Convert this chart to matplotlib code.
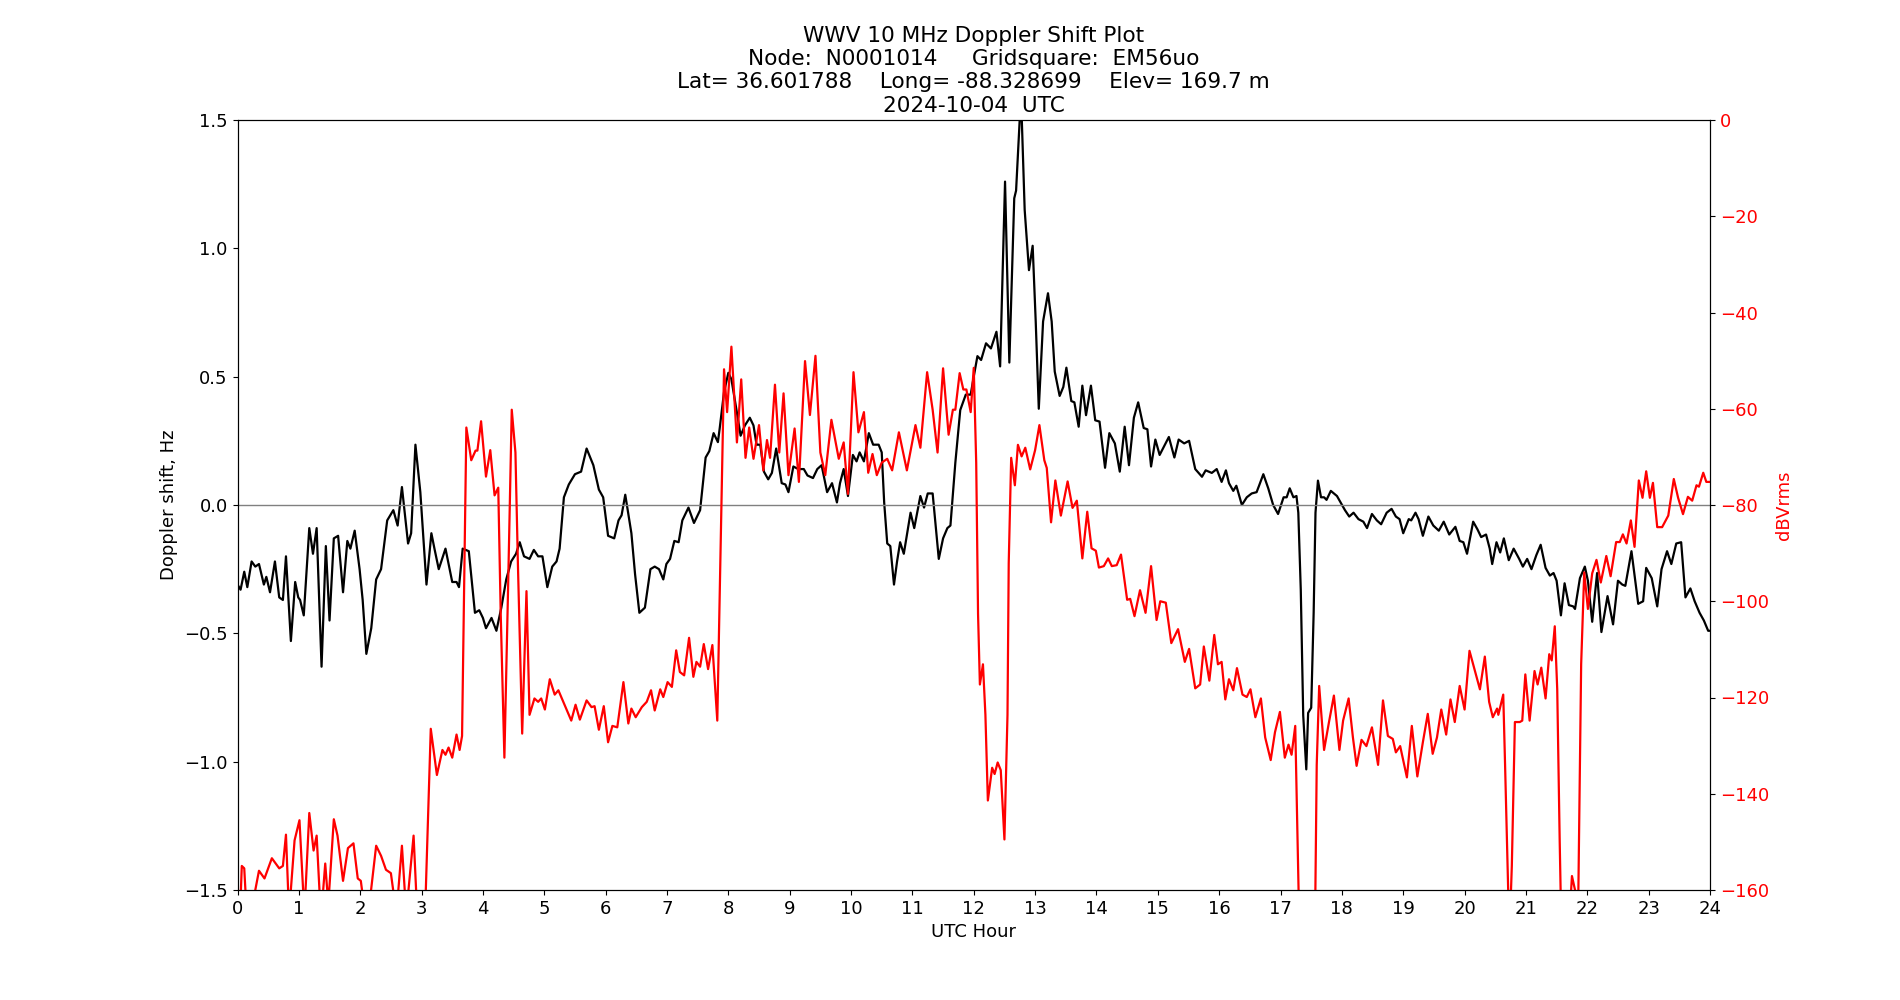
import matplotlib
matplotlib.use("Agg")
import matplotlib.pyplot as plt

plt.rcParams["font.size"] = 13

# ---- Doppler shift (Hz) ----
doppler_hours = [
    0.00, 0.05, 0.11, 0.16, 0.23, 0.29, 0.35, 0.43, 0.47, 0.53, 0.61, 0.68, 0.74, 0.79, 0.87, 0.94,
    0.99, 1.02, 1.08, 1.17, 1.23, 1.29, 1.37, 1.44, 1.50, 1.57, 1.64, 1.72, 1.79, 1.84, 1.91, 1.99,
    2.04, 2.10, 2.18, 2.26, 2.34, 2.44, 2.54, 2.61, 2.68, 2.78, 2.83, 2.90, 2.98, 3.08, 3.16, 3.21,
    3.28, 3.39, 3.50, 3.57, 3.61, 3.67, 3.77, 3.87, 3.94, 4.00,
    4.05, 4.14, 4.22, 4.30, 4.38, 4.46, 4.54, 4.60, 4.67, 4.76, 4.83, 4.90, 4.97, 5.05, 5.13, 5.20,
    5.25, 5.32, 5.40, 5.50, 5.60, 5.69, 5.80, 5.89, 5.96, 6.04, 6.14, 6.21, 6.26, 6.32, 6.42, 6.48,
    6.55, 6.64, 6.73, 6.80, 6.87, 6.94, 6.99, 7.05, 7.12, 7.19, 7.25, 7.35, 7.44, 7.54, 7.63, 7.69,
    7.76, 7.83,
    7.86, 7.93, 8.00, 8.05, 8.14, 8.20, 8.27, 8.35, 8.41, 8.46, 8.52, 8.58, 8.65, 8.71, 8.78, 8.87,
    8.93, 8.98, 9.06, 9.14, 9.23, 9.29, 9.38, 9.45, 9.52, 9.61, 9.69, 9.77, 9.82, 9.88, 9.95, 10.03,
    10.09, 10.14, 10.21, 10.29, 10.36, 10.45, 10.50, 10.54, 10.59, 10.64, 10.70, 10.75, 10.80, 10.86,
    10.97, 11.03, 11.13, 11.19, 11.25, 11.33, 11.43, 11.50, 11.57, 11.62, 11.70, 11.78, 11.87, 11.95,
    12.00, 12.06, 12.12, 12.20, 12.28, 12.37, 12.43, 12.51, 12.58, 12.66, 12.69, 12.77, 12.83, 12.90,
    12.96, 13.01, 13.06, 13.13, 13.21, 13.27, 13.32, 13.40, 13.46, 13.51, 13.59, 13.64, 13.71, 13.77,
    13.83, 13.91, 13.98, 14.05, 14.14, 14.21, 14.30, 14.38, 14.46, 14.53, 14.61, 14.68, 14.77, 14.83,
    14.89, 14.96, 15.03, 15.18, 15.27, 15.34, 15.43, 15.51, 15.61, 15.72, 15.78, 15.88, 15.96,
    16.04, 16.11, 16.16, 16.23, 16.28, 16.37, 16.45, 16.53, 16.61, 16.65, 16.72, 16.80, 16.88, 16.96,
    17.05, 17.10, 17.15, 17.21, 17.26, 17.29, 17.33, 17.37, 17.42, 17.45, 17.50, 17.54, 17.57, 17.61,
    17.66, 17.71, 17.75, 17.82, 17.92, 17.98, 18.05, 18.12, 18.19, 18.27, 18.35, 18.41, 18.49, 18.57,
    18.64, 18.73, 18.81, 18.88, 18.94, 19.00, 19.09, 19.13, 19.20, 19.25, 19.32, 19.41, 19.49, 19.58,
    19.66, 19.75, 19.85, 19.92, 19.98, 20.04,
    20.14, 20.21, 20.27, 20.35, 20.41, 20.45, 20.52, 20.58, 20.64, 20.72, 20.80, 20.89, 20.95, 21.02,
    21.09, 21.17, 21.24, 21.32, 21.39, 21.45, 21.50, 21.57, 21.63, 21.70, 21.77, 21.80, 21.88, 21.96,
    22.01, 22.08, 22.16, 22.23, 22.33, 22.42, 22.50, 22.57, 22.62, 22.72, 22.83, 22.91, 22.96, 23.05,
    23.14, 23.21, 23.30, 23.37, 23.45, 23.53, 23.60, 23.68, 23.75, 23.83, 23.90, 23.97, 24.00,
]
doppler_hz = [
    -0.31, -0.33, -0.26, -0.32, -0.22, -0.24, -0.23, -0.31, -0.28, -0.34, -0.22, -0.36, -0.37, -0.20, -0.53, -0.30,
    -0.36, -0.37, -0.43, -0.09, -0.19, -0.09, -0.63, -0.16, -0.45, -0.13, -0.12, -0.34, -0.14, -0.17, -0.10, -0.25,
    -0.37, -0.58, -0.48, -0.29, -0.25, -0.06, -0.02, -0.08, 0.07, -0.15, -0.11, 0.235, 0.05, -0.31, -0.11, -0.17,
    -0.25, -0.17, -0.30, -0.30, -0.32, -0.17, -0.18, -0.42, -0.41, -0.44,
    -0.48, -0.44, -0.49, -0.40, -0.29, -0.22, -0.19, -0.145, -0.20, -0.21, -0.175, -0.20, -0.20, -0.32, -0.24, -0.22,
    -0.17, 0.03, 0.08, 0.12, 0.13, 0.22, 0.155, 0.06, 0.03, -0.12, -0.13, -0.06, -0.04, 0.04, -0.11, -0.27,
    -0.42, -0.40, -0.25, -0.24, -0.25, -0.29, -0.23, -0.21, -0.14, -0.145, -0.06, -0.01, -0.07, -0.02, 0.185, 0.21,
    0.28, 0.245,
    0.30, 0.44, 0.515, 0.49, 0.36, 0.27, 0.31, 0.34, 0.31, 0.235, 0.235, 0.13, 0.10, 0.125, 0.22, 0.085,
    0.08, 0.05, 0.15, 0.14, 0.14, 0.115, 0.105, 0.14, 0.155, 0.05, 0.085, 0.01, 0.085, 0.14, 0.035, 0.195,
    0.17, 0.205, 0.17, 0.28, 0.235, 0.235, 0.205, 0.01, -0.15, -0.16, -0.31, -0.22, -0.145, -0.19,
    -0.03, -0.09, 0.035, -0.01, 0.045, 0.045, -0.21, -0.13, -0.09, -0.08, 0.165, 0.37, 0.43, 0.43,
    0.50, 0.58, 0.565, 0.63, 0.61, 0.675, 0.54, 1.26, 0.555, 1.195, 1.225, 1.60, 1.15, 0.915,
    1.01, 0.715, 0.375, 0.715, 0.825, 0.715, 0.52, 0.425, 0.46, 0.535, 0.405, 0.40, 0.305, 0.465,
    0.35, 0.465, 0.33, 0.325, 0.145, 0.28, 0.24, 0.13, 0.305, 0.155, 0.34, 0.40, 0.30, 0.295,
    0.15, 0.255, 0.195, 0.265, 0.185, 0.255, 0.24, 0.25, 0.14, 0.11, 0.135, 0.125, 0.14,
    0.09, 0.135, 0.085, 0.055, 0.075, 0.00, 0.03, 0.045, 0.05, 0.075, 0.12, 0.065, 0.00, -0.035,
    0.03, 0.03, 0.065, 0.03, 0.035, -0.03, -0.33, -0.82, -1.03, -0.81, -0.79, -0.42, -0.03, 0.095,
    0.03, 0.03, 0.02, 0.055, 0.035, 0.01, -0.02, -0.045, -0.03, -0.055, -0.065, -0.09, -0.035, -0.06,
    -0.075, -0.03, -0.015, -0.045, -0.055, -0.11, -0.055, -0.06, -0.03, -0.055, -0.12, -0.045, -0.08, -0.10,
    -0.065, -0.115, -0.085, -0.14, -0.145, -0.19,
    -0.065, -0.095, -0.125, -0.115, -0.17, -0.23, -0.145, -0.185, -0.13, -0.215, -0.17, -0.21, -0.24, -0.21,
    -0.25, -0.195, -0.155, -0.245, -0.275, -0.265, -0.295, -0.43, -0.305, -0.39, -0.395, -0.405, -0.285, -0.24,
    -0.295, -0.455, -0.265, -0.495, -0.355, -0.465, -0.295, -0.31, -0.315, -0.18, -0.385, -0.375, -0.245, -0.285,
    -0.395, -0.25, -0.18, -0.23, -0.15, -0.145, -0.36, -0.325, -0.375, -0.42, -0.45, -0.49, -0.49,
]

# ---- Signal level (dBVrms) ----
power_hours = [
    0.00, 0.05, 0.07, 0.11, 0.15, 0.22, 0.29, 0.35, 0.44, 0.56, 0.68, 0.74, 0.79, 0.84, 0.93, 1.01,
    1.09, 1.17, 1.24, 1.29, 1.36, 1.43, 1.48, 1.57, 1.63, 1.72, 1.80, 1.89, 1.96, 2.01, 2.07, 2.15,
    2.26, 2.34, 2.42, 2.50, 2.59, 2.68, 2.75, 2.87, 2.94, 3.05, 3.15, 3.25, 3.34, 3.39, 3.44, 3.50,
    3.57, 3.62, 3.66, 3.73, 3.81, 3.88, 3.91, 3.97,
    4.05, 4.12, 4.19, 4.25, 4.29, 4.35, 4.41, 4.47, 4.53, 4.57, 4.64, 4.71, 4.76, 4.84, 4.90, 4.95,
    5.01, 5.09, 5.17, 5.23, 5.33, 5.44, 5.51, 5.58, 5.69, 5.77, 5.82, 5.89, 5.97, 6.04, 6.11, 6.19,
    6.29, 6.37, 6.42, 6.49, 6.59, 6.67, 6.74, 6.80, 6.89, 6.94, 7.01, 7.08, 7.15, 7.21, 7.28, 7.36,
    7.43, 7.48, 7.54, 7.60, 7.67, 7.74, 7.82,
    7.93, 7.98, 8.05, 8.14, 8.21, 8.28, 8.34, 8.41, 8.50, 8.57, 8.63, 8.68, 8.76, 8.83, 8.90, 8.98,
    9.08, 9.15, 9.25, 9.33, 9.42, 9.50, 9.58, 9.68, 9.80, 9.88, 9.95, 10.04, 10.12, 10.21, 10.28, 10.35,
    10.42, 10.50, 10.59, 10.67, 10.78, 10.91, 11.05, 11.13, 11.24, 11.33, 11.41, 11.50, 11.59, 11.66,
    11.70, 11.77, 11.83, 11.88, 11.95,
    12.00, 12.04, 12.07, 12.10, 12.15, 12.19, 12.23, 12.30, 12.34, 12.39, 12.44, 12.50, 12.55, 12.57,
    12.61, 12.67, 12.72, 12.78, 12.84, 12.92, 13.00, 13.07, 13.15, 13.19, 13.26, 13.33, 13.42, 13.53,
    13.61, 13.68, 13.77, 13.85, 13.92, 13.99, 14.04, 14.12, 14.19, 14.25, 14.33, 14.40, 14.50, 14.55,
    14.62, 14.71, 14.80, 14.89, 14.98, 15.04, 15.13, 15.22, 15.33, 15.44, 15.51, 15.61, 15.69, 15.75,
    15.84, 15.92, 15.98, 16.04,
    16.10, 16.16, 16.23, 16.29, 16.38, 16.45, 16.51, 16.59, 16.68, 16.75, 16.84, 16.91, 16.99, 17.07,
    17.13, 17.18, 17.24, 17.27, 17.31, 17.43, 17.56, 17.59, 17.63, 17.71, 17.79, 17.87, 17.96, 18.02,
    18.11, 18.18, 18.24, 18.32, 18.40, 18.49, 18.59, 18.67, 18.75, 18.83, 18.88, 18.95, 19.06, 19.14,
    19.23, 19.32, 19.40, 19.48, 19.55, 19.62, 19.70, 19.77, 19.84, 19.92, 20.00, 20.08,
    20.16, 20.25, 20.33, 20.40, 20.46, 20.53, 20.55, 20.63, 20.66, 20.70, 20.73, 20.77, 20.82, 20.90,
    20.94, 20.99, 21.06, 21.14, 21.19, 21.25, 21.32, 21.38, 21.42, 21.47, 21.51, 21.55, 21.58, 21.69,
    21.75, 21.80, 21.85, 21.90, 21.95, 22.01, 22.08, 22.15, 22.22, 22.31, 22.38, 22.47, 22.53, 22.58,
    22.64, 22.71, 22.77, 22.84, 22.90, 22.96, 23.02, 23.07, 23.14, 23.22, 23.32, 23.41, 23.48, 23.56,
    23.64, 23.71, 23.78, 23.82, 23.89, 23.94, 24.00,
]
power_dbv = [
    -165, -162, -155, -155.5, -165, -166, -160, -156, -157.6, -153.4, -155.5, -155, -148.5, -165, -149.7, -145.5,
    -165, -144, -151.8, -148.7, -166, -154.5, -163, -145.3, -148.7, -158.1, -151.3, -150.3, -157.6, -158.1, -164, -163,
    -150.8, -152.9, -155.8, -156.5, -165, -150.8, -165, -148.7, -168, -168, -126.5, -136.1, -130.9, -131.9, -130.4, -132.5,
    -127.7, -130.9, -128, -63.9, -70.7, -68.7, -68.7, -62.6,
    -74.1, -68.6, -78.0, -76.4, -102.6, -132.5, -97.4, -60.2, -69.1, -92.1, -127.5, -97.9, -123.6, -120.2, -120.9, -120.2,
    -122.5, -116.2, -119.4, -118.5, -121.5, -124.8, -121.5, -124.6, -120.6, -122.0, -121.8, -126.7, -121.8, -129.3, -125.9, -126.2,
    -116.8, -125.4, -122.3, -124.1, -122.0, -120.9, -118.5, -122.7, -118.3, -119.9, -116.8, -117.8, -110.2, -114.7, -115.4, -107.6,
    -115.7, -112.6, -113.6, -108.9, -114.1, -109.1, -124.8,
    -51.8, -60.7, -47.1, -67.0, -53.9, -70.2, -63.9, -70.4, -63.4, -72.8, -66.5, -70.2, -55.0, -69.1, -56.8, -73.8,
    -64.1, -75.2, -50.1, -61.3, -49.0, -69.1, -73.8, -62.3, -70.4, -67.0, -77.7, -52.4, -64.9, -60.7, -73.3, -69.4,
    -73.8, -71.2, -70.4, -72.8, -64.9, -72.8, -63.4, -68.1, -52.4, -60.2, -69.1, -51.6, -65.4, -60.2,
    -60.2, -52.6, -56.0, -56.0, -60.7,
    -51.5, -71.2, -102.6, -117.3, -113.1, -123.6, -141.4, -134.6, -135.9, -133.5, -135.1, -149.5, -123.6, -92.1,
    -70.2, -75.9, -67.5, -69.9, -68.1, -72.6, -68.6, -63.4, -70.7, -72.3, -83.6, -74.9, -82.2, -75.1,
    -80.6, -79.1, -91.1, -81.4, -89.0, -89.5, -93.0, -92.7, -91.1, -92.7, -92.5, -90.3, -99.7, -99.5,
    -103.1, -97.7, -102.4, -92.7, -103.9, -100.0, -100.3, -108.7, -105.8, -112.6, -109.9, -118.1, -117.3, -109.4,
    -116.5, -107.0, -113.1, -112.6,
    -120.4, -116.2, -118.5, -113.9, -119.4, -119.9, -118.3, -124.1, -120.2, -128.3, -133.0, -127.2, -123.0, -132.5,
    -129.8, -131.9, -125.9, -144.5, -170, -172, -170, -134.0, -117.6, -130.9, -125.1, -119.6, -130.9, -124.8,
    -120.2, -128.3, -134.2, -128.8, -130.1, -126.2, -134.0, -120.6, -128.0, -128.6, -131.4, -130.1, -136.6, -125.9,
    -136.4, -129.3, -123.4, -131.7, -128.3, -122.5, -127.7, -120.4, -125.1, -117.6, -122.5, -110.3,
    -114.1, -118.3, -111.5, -120.9, -124.1, -122.3, -123.6, -119.4, -134.0, -155.0, -170, -155.0, -125.1, -125.1,
    -124.8, -115.2, -124.8, -114.5, -117.3, -113.8, -120.2, -111.0, -112.3, -105.2, -118.3, -149.7, -170, -170,
    -157.1, -160.0, -165, -113.1, -94.0, -101.6, -94.2, -91.4, -96.1, -90.6, -94.8, -87.7, -87.7, -86.1,
    -88.0, -83.2, -88.7, -74.9, -78.5, -73.0, -78.5, -75.4, -84.6, -84.6, -82.2, -74.6, -78.5, -81.9,
    -78.3, -79.1, -75.9, -76.2, -73.3, -75.2, -75.2,
]

hour_ticks = list(range(0, 25))

title = ("WWV 10 MHz Doppler Shift Plot\n"
         "Node:  N0001014     Gridsquare:  EM56uo\n"
         "Lat= 36.601788    Long= -88.328699    Elev= 169.7 m\n"
         "2024-10-04  UTC")

fig, ax = plt.subplots(figsize=(19, 10), dpi=100)

ax.plot(doppler_hours, doppler_hz, color="black", linewidth=1.6,
        solid_joinstyle="round")
ax.axhline(0, color="grey", linewidth=1)
ax.set_xlim(0, 24)
ax.set_ylim(-1.5, 1.5)
ax.set_xticks(hour_ticks)
ax.set_xlabel("UTC Hour")
ax.set_ylabel("Doppler shift, Hz")
ax.set_title(title, fontsize="large")

# signal level on the right axis
ax2 = ax.twinx()
ax2.plot(power_hours, power_dbv, color="red", linewidth=1.6,
         solid_joinstyle="round")
ax2.set_ylim(-160, 0)
ax2.set_ylabel("dBVrms", color="red")
ax2.tick_params(axis="y", labelcolor="red")

fig.savefig("out.png")
